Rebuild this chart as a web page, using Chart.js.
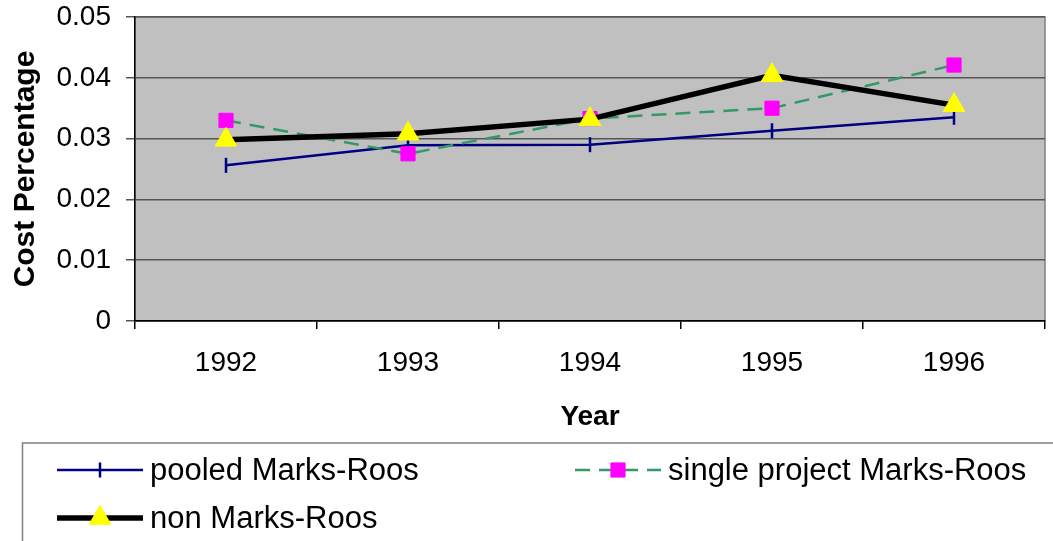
<!DOCTYPE html>
<html>
<head>
<meta charset="utf-8">
<script src="https://cdn.jsdelivr.net/npm/chart.js@4.4.0/dist/chart.umd.min.js"></script>
<style>
  html, body { margin: 0; padding: 0; background: #fff; }
  #wrap { width: 1053px; height: 541px; position: relative; }
</style>
</head>
<body>
<div id="wrap"><canvas id="costChart"></canvas></div>
<script>
// ==================== DATA ====================
const years = ['1992', '1993', '1994', '1995', '1996'];
const pooledMR = [0.0256, 0.0289, 0.0290, 0.0313, 0.0335];
const singleMR = [0.0330, 0.0275, 0.0333, 0.0350, 0.0421];
const nonMR = [0.0298, 0.0308, 0.0332, 0.0404, 0.0355];
const yTicks = [0, 0.01, 0.02, 0.03, 0.04, 0.05];

const FONT = '"Liberation Sans", Arial, sans-serif';

// fond gris de la zone de tracé
const plotBackground = {
    id: 'plotBackground',
    beforeDraw(chart) {
        const { ctx, chartArea: a } = chart;
        ctx.save();
        ctx.fillStyle = '#c0c0c0';
        ctx.fillRect(a.left, a.top, a.right - a.left, a.bottom - a.top);
        ctx.strokeStyle = '#808080';
        ctx.lineWidth = 1.5;
        ctx.strokeRect(a.left, a.top, a.right - a.left, a.bottom - a.top);
        ctx.restore();
    }
};

// légende encadrée façon Excel
const boxLegend = {
    id: 'boxLegend',
    afterDraw(chart) {
        const { ctx } = chart;
        const cols = [57, 575];
        const rows = [470, 518];
        ctx.save();
        ctx.strokeStyle = '#808080';
        ctx.lineWidth = 1.5;
        ctx.strokeRect(22.5, 443, 1100, 200);

        chart.data.datasets.forEach((ds, i) => {
            const x = cols[i % 2];
            const y = rows[Math.floor(i / 2)];
            const w = 86;
            ctx.save();
            ctx.strokeStyle = ds.borderColor;
            ctx.lineWidth = ds.borderWidth;
            ctx.setLineDash(ds.borderDash || []);
            ctx.beginPath();
            ctx.moveTo(x, y);
            ctx.lineTo(x + w, y);
            ctx.stroke();
            ctx.setLineDash([]);
            ctx.fillStyle = ds.pointBackgroundColor;
            ctx.strokeStyle = ds.pointBorderColor;
            ctx.lineWidth = ds.pointBorderWidth;
            Chart.helpers.drawPoint(ctx, {
                pointStyle: ds.pointStyle,
                rotation: ds.pointRotation || 0,
                radius: ds.pointRadius,
                borderWidth: ds.pointBorderWidth
            }, x + w / 2, y);
            ctx.restore();

            ctx.fillStyle = '#000';
            ctx.font = '31px ' + FONT;
            ctx.textBaseline = 'middle';
            ctx.textAlign = 'left';
            ctx.fillText(ds.label, x + w + 7, y + 1);
        });
        ctx.restore();
    }
};

new Chart(document.getElementById('costChart'), {
    type: 'line',
    data: {
        labels: years,
        datasets: [{
            label: 'pooled Marks-Roos',
            data: pooledMR,
            borderColor: '#000080',
            borderWidth: 2.5,
            pointStyle: 'line',
            pointRotation: 90,
            pointRadius: 7.5,
            pointBorderColor: '#000080',
            pointBackgroundColor: '#000080',
            pointBorderWidth: 2.5,
            order: 3
        }, {
            label: 'single project Marks-Roos',
            data: singleMR,
            borderColor: '#339966',
            borderWidth: 2.5,
            borderDash: [15, 9],
            pointStyle: 'rect',
            pointRadius: 10,
            pointBorderColor: '#ff00ff',
            pointBackgroundColor: '#ff00ff',
            pointBorderWidth: 1,
            order: 2
        }, {
            label: 'non Marks-Roos',
            data: nonMR,
            borderColor: '#000000',
            borderWidth: 5.5,
            pointStyle: 'triangle',
            pointRadius: 12.5,
            pointBorderColor: '#ffff00',
            pointBackgroundColor: '#ffff00',
            pointBorderWidth: 1,
            order: 1
        }]
    },
    options: {
        responsive: true,
        maintainAspectRatio: false,
        animation: false,
        events: [],
        elements: { line: { tension: 0 } },
        layout: {
            autoPadding: false,
            padding: { left: 0, right: 8, top: 17, bottom: 107 }
        },
        plugins: {
            legend: { display: false },
            tooltip: { enabled: false }
        },
        scales: {
            x: {
                offset: true,
                grid: {
                    offset: true,
                    drawOnChartArea: false,
                    drawTicks: true,
                    tickLength: 8,
                    tickColor: '#000',
                    lineWidth: 1.5
                },
                border: { display: true, color: '#000', width: 1.5 },
                ticks: {
                    color: '#000',
                    padding: 17,
                    font: { family: FONT, size: 28 }
                },
                title: {
                    display: true,
                    text: 'Year',
                    color: '#000',
                    padding: { top: 0, bottom: 0 },
                    font: { family: FONT, size: 28, weight: 'bold' }
                },
                afterFit(scale) {
                    scale.height = 113;
                    scale.paddingLeft = 0;
                    scale.paddingRight = 0;
                }
            },
            y: {
                min: 0,
                max: 0.05,
                afterBuildTicks(scale) {
                    scale.ticks = yTicks.map(v => ({ value: v }));
                },
                grid: {
                    color: '#555',
                    lineWidth: 1.5,
                    tickLength: 9,
                    tickColor: '#555'
                },
                border: { display: true, color: '#000', width: 1.5 },
                ticks: {
                    color: '#000',
                    padding: 15,
                    font: { family: FONT, size: 28 },
                    callback: v => String(Number(v.toFixed(2)))
                },
                title: {
                    display: true,
                    text: 'Cost Percentage',
                    color: '#000',
                    padding: { top: 8, bottom: 0 },
                    font: { family: FONT, size: 30, weight: 'bold' }
                },
                afterFit(scale) {
                    scale.width = 135;
                    scale.paddingTop = 0;
                    scale.paddingBottom = 0;
                }
            }
        }
    },
    plugins: [plotBackground, boxLegend]
});
</script>
</body>
</html>
